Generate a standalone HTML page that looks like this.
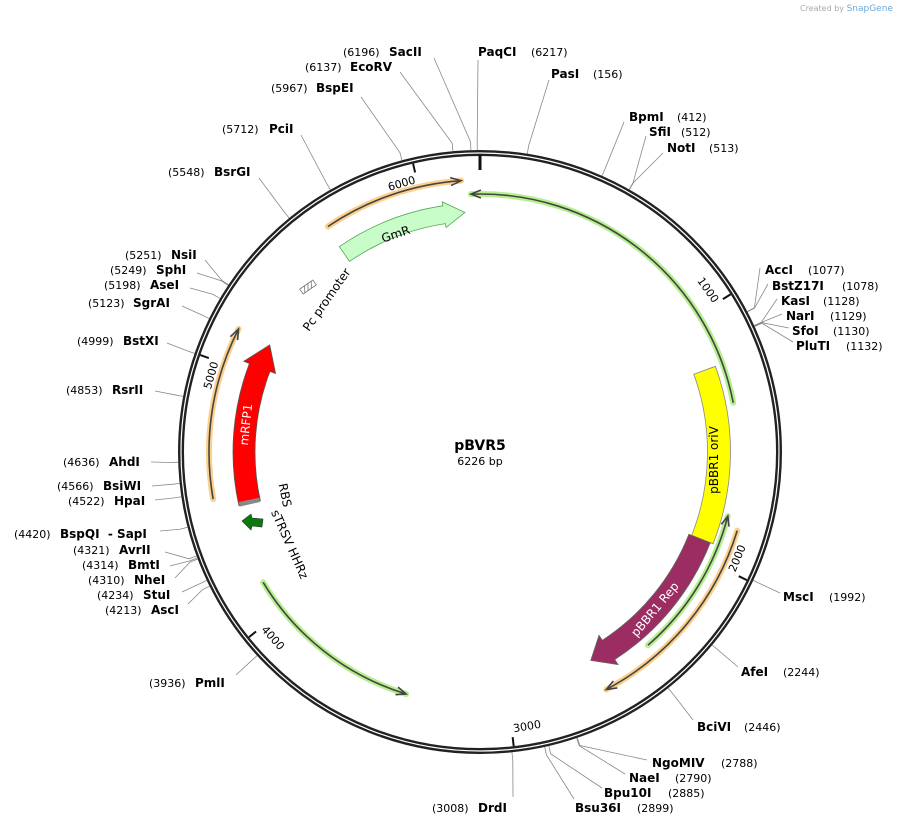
<!DOCTYPE html>
<html><head><meta charset="utf-8"><style>
html,body{margin:0;padding:0;background:#fff}
svg{display:block;font-family:"DejaVu Sans","Liberation Sans",sans-serif}
.n{font-weight:bold;font-size:12px;fill:#000}
.p{font-size:11px;fill:#000}
</style></head><body>
<svg id="s" width="898" height="826" viewBox="0 0 898 826">
<g id="lines" stroke="#888" stroke-width="0.8" fill="none"></g>
<g id="feat"></g>
<circle cx="480" cy="452" r="299" fill="none" stroke="#222" stroke-width="6"/>
<circle cx="480" cy="452" r="299" fill="none" stroke="#fff" stroke-width="1.2"/>
<line x1="480" y1="155" x2="480" y2="170" stroke="#111" stroke-width="3"/>
<g id="ticks"></g>
<text x="800" y="11" font-size="8" fill="#aaa">Created by <tspan fill="#6aa8d8" font-size="9">SnapGene</tspan></text>
<text x="480" y="450" text-anchor="middle" font-weight="bold" font-size="14">pBVR5</text>
<text x="480" y="465" text-anchor="middle" font-size="11">6226 bp</text>

<g id="labels">
<text x="343" y="56" class="p">(6196)</text><text x="389" y="56" class="n">SacII</text>
<text x="305" y="71" class="p">(6137)</text><text x="350" y="71" class="n">EcoRV</text>
<text x="271" y="92" class="p">(5967)</text><text x="316" y="92" class="n">BspEI</text>
<text x="222" y="133" class="p">(5712)</text><text x="269" y="133" class="n">PciI</text>
<text x="168" y="176" class="p">(5548)</text><text x="214" y="176" class="n">BsrGI</text>
<text x="125" y="259" class="p">(5251)</text><text x="171" y="259" class="n">NsiI</text>
<text x="110" y="274" class="p">(5249)</text><text x="156" y="274" class="n">SphI</text>
<text x="104" y="289" class="p">(5198)</text><text x="150" y="289" class="n">AseI</text>
<text x="88" y="307" class="p">(5123)</text><text x="133" y="307" class="n">SgrAI</text>
<text x="77" y="345" class="p">(4999)</text><text x="123" y="345" class="n">BstXI</text>
<text x="66" y="394" class="p">(4853)</text><text x="112" y="394" class="n">RsrII</text>
<text x="63" y="466" class="p">(4636)</text><text x="109" y="466" class="n">AhdI</text>
<text x="57" y="490" class="p">(4566)</text><text x="103" y="490" class="n">BsiWI</text>
<text x="68" y="505" class="p">(4522)</text><text x="114" y="505" class="n">HpaI</text>
<text x="14" y="538" class="p">(4420)</text><text x="60" y="538" class="n">BspQI &#160;- SapI</text>
<text x="73" y="554" class="p">(4321)</text><text x="119" y="554" class="n">AvrII</text>
<text x="82" y="569" class="p">(4314)</text><text x="128" y="569" class="n">BmtI</text>
<text x="88" y="584" class="p">(4310)</text><text x="134" y="584" class="n">NheI</text>
<text x="97" y="599" class="p">(4234)</text><text x="143" y="599" class="n">StuI</text>
<text x="105" y="614" class="p">(4213)</text><text x="151" y="614" class="n">AscI</text>
<text x="149" y="687" class="p">(3936)</text><text x="195" y="687" class="n">PmlI</text>
<text x="432" y="812" class="p">(3008)</text><text x="478" y="812" class="n">DrdI</text>
<text x="575" y="812" class="n">Bsu36I</text><text x="637" y="812" class="p">(2899)</text>
<text x="604" y="797" class="n">Bpu10I</text><text x="668" y="797" class="p">(2885)</text>
<text x="629" y="782" class="n">NaeI</text><text x="675" y="782" class="p">(2790)</text>
<text x="652" y="767" class="n">NgoMIV</text><text x="721" y="767" class="p">(2788)</text>
<text x="697" y="731" class="n">BciVI</text><text x="744" y="731" class="p">(2446)</text>
<text x="741" y="676" class="n">AfeI</text><text x="783" y="676" class="p">(2244)</text>
<text x="783" y="601" class="n">MscI</text><text x="829" y="601" class="p">(1992)</text>
<text x="796" y="350" class="n">PluTI</text><text x="846" y="350" class="p">(1132)</text>
<text x="792" y="335" class="n">SfoI</text><text x="833" y="335" class="p">(1130)</text>
<text x="786" y="320" class="n">NarI</text><text x="830" y="320" class="p">(1129)</text>
<text x="781" y="305" class="n">KasI</text><text x="823" y="305" class="p">(1128)</text>
<text x="772" y="290" class="n">BstZ17I</text><text x="842" y="290" class="p">(1078)</text>
<text x="765" y="274" class="n">AccI</text><text x="808" y="274" class="p">(1077)</text>
<text x="667" y="152" class="n">NotI</text><text x="709" y="152" class="p">(513)</text>
<text x="649" y="136" class="n">SfiI</text><text x="681" y="136" class="p">(512)</text>
<text x="629" y="121" class="n">BpmI</text><text x="677" y="121" class="p">(412)</text>
<text x="551" y="78" class="n">PasI</text><text x="593" y="78" class="p">(156)</text>
<text x="478" y="56" class="n">PaqCI</text><text x="531" y="56" class="p">(6217)</text>
</g>
<g id="ftext" font-size="12">
<text transform="translate(397,238) rotate(-19)" text-anchor="middle">GmR</text>
<text transform="translate(250,425) rotate(-84)" text-anchor="middle" fill="#fff">mRFP1</text>
<text transform="translate(718,460) rotate(-90)" text-anchor="middle">pBBR1 oriV</text>
<text transform="translate(658,612) rotate(-50)" text-anchor="middle" fill="#fff">pBBR1 Rep</text>
<text transform="translate(330,302) rotate(-55)" text-anchor="middle">Pc promoter</text>
<text transform="translate(281,496) rotate(78)" text-anchor="middle">RBS</text>
<text transform="translate(286,546) rotate(66)" text-anchor="middle">sTRSV HHRz</text>
</g>
<g transform="translate(308,287) rotate(-35)" stroke="#666" stroke-width="0.7" fill="#fff"><rect x="-8" y="-3" width="16" height="6"/><line x1="-6" y1="3" x2="-2" y2="-3"/><line x1="-2" y1="3" x2="2" y2="-3"/><line x1="2" y1="3" x2="6" y2="-3"/></g>
<polygon points="242,521 251,514 252,518 263,519 262,527 252,526 251,530" fill="#0a7a0a" stroke="#333" stroke-width="0.6"/>
</svg>
<script>
var C=[480,452],NS="http://www.w3.org/2000/svg";
function pt(r,a){a=a*Math.PI/180;return[C[0]+r*Math.sin(a),C[1]-r*Math.cos(a)];}
function el(t,at,p){var e=document.createElementNS(NS,t);for(var k in at)e.setAttribute(k,at[k]);document.getElementById(p).appendChild(e);return e;}
function arc(r,a1,a2){var p=pt(r,a1),q=pt(r,a2),l=Math.abs(a2-a1)>180?1:0,sw=a2>a1?1:0;return "M"+p+" A"+r+","+r+" 0 "+l+","+sw+" "+q;}
var E=[[6196,434,58],[6137,400,72],[5967,361,97],[5712,301,135],[5548,259,178],[5251,205,260],[5249,197,273],[5198,190,288],[5123,182,306],[4999,167,343],[4853,155,391],[4636,151,462],[4566,152,486],[4522,155,500],[4420,160,531],[4321,165,552],[4314,170,566],[4310,175,578],[4234,182,592],[4213,188,604],[3936,236,675],[3008,513,797],[2899,574,799],[2885,602,788],[2790,625,774],[2788,647,760],[2446,693,720],[2244,738,667],[1992,780,593],[1132,793,342],[1130,789,328],[1129,782,314],[1128,777,299],[1078,768,284],[1077,760,268],[513,663,153],[512,646,136],[412,624,122],[156,549,80],[6217,478,60]];
E.forEach(function(e){var a=e[0]/6226*360,p=pt(302,a),q=pt(310,a);el("polyline",{points:p+" "+q+" "+e[1]+","+e[2]},"lines");});
for(var i=1;i<=6;i++){var a=i*1000/6226*360,p=pt(296,a),q=pt(287,a);el("line",{x1:p[0],y1:p[1],x2:q[0],y2:q[1],stroke:"#111","stroke-width":2},"ticks");
var la=a-3.2,L=pt(279,la),rot=la;while(rot>90)rot-=180;while(rot<=-90)rot+=180;
var t=el("text",{transform:"translate("+L+") rotate("+rot+")","text-anchor":"middle","dominant-baseline":"middle","font-size":"11"},"ticks");t.textContent=i*1000;}
function thin(r,a1,a2,head,halo){el("path",{d:arc(r,a1,a2),stroke:halo,"stroke-width":6,fill:"none","stroke-linecap":"round"},"feat");
el("path",{d:arc(r,a1,a2),stroke:"#444","stroke-width":1.6,fill:"none"},"feat");
var h=head==2?a2:a1,d=head==2?-1:1,t=pt(r,h),b1=pt(r+4,h+d*2.2),b2=pt(r-4,h+d*2.2);
el("path",{d:"M"+b1+" L"+t+" L"+b2,stroke:"#444","stroke-width":1.6,fill:"none"},"feat");}
thin(272,-34,-4,2,"#fbd08c");
thin(258,-2,79,1,"#b6f08e");
thin(256,104.5,139,1,"#b6f08e");
thin(269,107,152,2,"#fbd08c");
thin(253,197,239,1,"#b6f08e");
thin(271,260,297,2,"#fbd08c");
function thick(r,w,a1,a2,hd,ex,fill,stroke){var o=r+w/2,i=r-w/2,m=a2-hd;
var d="M"+pt(i,a1)+" A"+i+","+i+" 0 0,1 "+pt(i,m)+" L"+pt(i-ex,m)+" L"+pt(r,a2)+" L"+pt(o+ex,m)+" L"+pt(o,m)+" A"+o+","+o+" 0 0,0 "+pt(o,a1)+" Z";
el("path",{d:d,fill:fill,stroke:stroke,"stroke-width":0.8},"feat");}
thick(240,18,325.6,356.4,5,4,"#c8fcc8","#5a5");
thick(239,23,70,111.5,0,0,"#ffff00","#888");
thick(236,23,111.5,152,5,6,"#9b2d62","#666");
thick(236,22,257.5,297,6,6,"#ff0000","#555");
el("path",{d:arc(236,257.2,258.3),stroke:"#888","stroke-width":21,fill:"none"},"feat");
</script>
</body></html>
